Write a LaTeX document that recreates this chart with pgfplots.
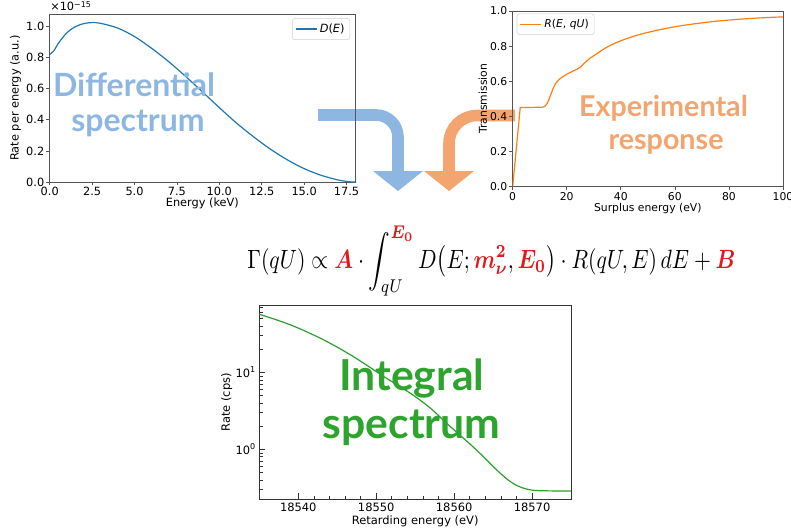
\documentclass[border=0pt]{standalone}
\usepackage[no-math]{fontspec}
\setmainfont{DejaVu Sans}
\newfontfamily\lato{Lato}
\usepackage{amsmath,bm}
\usepackage{graphicx}
\usepackage{pgfplots}
\pgfplotsset{compat=1.18}

\definecolor{mplblue}{HTML}{1F77B4}
\definecolor{mplorange}{HTML}{FF7F0E}
\definecolor{mplgreen}{HTML}{2CA02C}
\definecolor{lblue}{HTML}{8DB7E0}
\definecolor{lorange}{HTML}{F3A46F}
\definecolor{tgreen}{HTML}{2DA42D}
\definecolor{eqred}{HTML}{E31A1C}
\definecolor{framegray}{HTML}{555555}

\newcommand{\tfa}{\fontsize{8.5}{10}\selectfont}
\newcommand{\tfb}{\fontsize{8.1}{10}\selectfont}
\newcommand{\tfc}{\fontsize{8.6}{10}\selectfont}

\pgfplotsset{
  mpl/.style={
    scale only axis,
    axis line style={framegray, line width=0.6pt},
    tick style={framegray, line width=0.5pt},
    tick align=outside,
    major tick length=2.6pt,
    xtick pos=left, ytick pos=left,
    tick label style={inner sep=1.3pt},
    /pgf/number format/assume math mode=true,
    legend style={draw=gray!35, rounded corners=2pt, inner sep=2pt},
    legend cell align=left,
    legend image code/.code={\draw[##1] (0cm,0cm) -- (0.55cm,0cm);},
  },
  onedec/.style={/pgf/number format/fixed, /pgf/number format/fixed zerofill, /pgf/number format/precision=1},
}

\begin{document}
\begin{tikzpicture}
\useasboundingbox (0,0) rectangle (593.25pt,-398.25pt);

% ---------- arrows (behind the plots) ----------
\begin{scope}[x=0.75pt, y=-0.75pt]
  \draw[lblue, line width=8.7pt] (318,115) -- (376,115) arc[start angle=-90, end angle=0, radius=22] -- (398,172);
  \fill[lblue] (373,171) -- (423,171) -- (398,191) -- cycle;
  \draw[lorange, line width=8.7pt] (515,115.5) -- (477,115.5) arc[start angle=-90, end angle=-180, radius=28] -- (449,172);
  \fill[lorange] (424,171) -- (474,171) -- (449,191) -- cycle;
\end{scope}

% ---------- Differential spectrum ----------
\begin{axis}[mpl,
  at={(37.28pt,-136.5pt)}, anchor=south west,
  width=229pt, height=126pt,
  tick label style={font=\tfa}, label style={font=\tfa}, legend style={font=\tfa},
  xmin=0, xmax=18, ymin=0, ymax=1.08,
  xtick={0,2.5,5,7.5,10,12.5,15,17.5},
  ytick={0,0.2,0.4,0.6,0.8,1.0},
  xticklabel style={onedec},
  yticklabel style={onedec},
  xlabel={Energy (keV)}, ylabel={Rate per energy (a.u.)},
  xlabel style={at={(axis description cs:0.5,-0.125)}, anchor=center},
  ylabel style={at={(axis description cs:-0.112,0.5)}, anchor=center},
  legend style={at={(0.984,0.975)}, anchor=north east},
]
\addplot[mplblue, line width=0.9pt, smooth] table {
0 0.820
0.25 0.844
0.5 0.890
1 0.958
1.5 0.998
2 1.018
2.5 1.025
3 1.020
4 0.990
5 0.935
6 0.860
7 0.775
8 0.680
9 0.580
10 0.478
11 0.380
12 0.292
13 0.212
14 0.143
15 0.086
16 0.043
17 0.013
17.5 0.004
17.8 0.000
18 0.000
};
\addlegendentry{\textit{D}(\textit{E})}
\end{axis}

% ---------- Transmission ----------
\begin{axis}[mpl,
  at={(384.5pt,-140.0pt)}, anchor=south west,
  width=202.7pt, height=131.8pt,
  tick label style={font=\tfb}, label style={font=\tfb}, legend style={font=\tfb},
  xmin=0, xmax=100, ymin=0, ymax=1,
  xtick={0,20,40,60,80,100},
  ytick={0,0.2,0.4,0.6,0.8,1.0},
  yticklabel style={onedec},
  xlabel={Surplus energy (eV)}, ylabel={Transmission},
  xlabel style={at={(axis description cs:0.5,-0.123)}, anchor=center},
  ylabel style={at={(axis description cs:-0.110,0.5)}, anchor=center},
  legend style={at={(0.015,0.985)}, anchor=north west},
]
\addplot[mplorange, line width=0.9pt] table {
0 0
2.8 0.450
11 0.452
};
\addlegendentry{\textit{R}(\textit{E}, \textit{qU})}
\addplot[mplorange, line width=0.9pt, smooth, forget plot] table {
11 0.452
12 0.458
13 0.480
14 0.520
15 0.560
16 0.590
17 0.607
18 0.620
20 0.640
22 0.655
24 0.670
25 0.680
26 0.695
28 0.723
30 0.745
35 0.795
40 0.830
45 0.857
50 0.878
55 0.895
60 0.910
65 0.922
70 0.932
75 0.941
80 0.948
85 0.954
90 0.959
95 0.963
100 0.966
};
\end{axis}

% ---------- Integral spectrum ----------
\begin{axis}[mpl,
  at={(194.5pt,-374.6pt)}, anchor=south west,
  width=233.8pt, height=145.7pt,
  tick label style={font=\tfc, inner sep=2.4pt}, label style={font=\tfc},
  axis line style={black!80, line width=0.7pt},
  tick style={black!80, line width=0.5pt},
  tick align=inside,
  major tick length=4.5pt, minor tick length=2.6pt,
  xmin=18535, xmax=18575, ymode=log, ymin=0.223, ymax=74.8,
  xtick={18540,18550,18560,18570},
  minor x tick num=4,
  scaled x ticks=false,
  xticklabel style={/pgf/number format/1000 sep={}},
  ytick={1,10}, yticklabels={10\textsuperscript{0},10\textsuperscript{1}},
  minor ytick={0.3,0.4,0.5,0.6,0.7,0.8,0.9,2,3,4,5,6,7,8,9,20,30,40,50,60,70},
  xlabel={Retarding energy (eV)}, ylabel={Rate (cps)},
  xlabel style={at={(axis description cs:0.5,-0.114)}, anchor=center},
  ylabel style={at={(axis description cs:-0.105,0.5)}, anchor=center},
]
\addplot[mplgreen, line width=0.9pt, smooth] table {
18535 57
18537 49
18539 41.5
18541 34
18543 27.3
18545 21.3
18547 16.2
18549 12
18551 8.8
18553 6.6
18555 4.85
18557 3.4
18559 2.2
18561 1.45
18562 1.18
18563 0.95
18564 0.76
18565 0.60
18566 0.48
18567 0.395
18568 0.34
18569 0.31
18570 0.295
18571 0.290
18573 0.288
18575 0.288
};
\end{axis}

% ---------- overlays (pixel coordinates) ----------
\begin{scope}[x=0.75pt, y=-0.75pt]
  \node[anchor=base west, font=\tfa, inner sep=0pt] at (50,11) {×10\textsuperscript{−15}};

  % big labels
  \node[anchor=base, inner sep=0pt, text=lblue, font=\lato\bfseries\fontsize{24}{24}\selectfont] at (134,96.7) {Differential};
  \node[anchor=base, inner sep=0pt, text=lblue, font=\lato\bfseries\fontsize{24}{24}\selectfont] at (138,131.7) {spectrum};
  \node[anchor=base, inner sep=0pt, text=lorange, font=\lato\bfseries\fontsize{21.5}{21.5}\selectfont] at (663.5,116.7) {Experimental};
  \node[anchor=base, inner sep=0pt, text=lorange, font=\lato\bfseries\fontsize{21.5}{21.5}\selectfont] at (666,150) {response};
  \node[anchor=base, inner sep=0pt, text=tgreen, font=\lato\bfseries\fontsize{32}{32}\selectfont] at (411.7,390) {Integral};
  \node[anchor=base, inner sep=0pt, text=tgreen, font=\lato\bfseries\fontsize{32}{32}\selectfont] at (411.7,438.3) {spectrum};

  % formula
  \node[anchor=base, inner sep=0pt] at (491.5,268.3) {\scalebox{1}[1.22]{\resizebox{366pt}{!}{$\displaystyle \Gamma(qU)\propto \textcolor{eqred}{\bm{A}}\cdot\int_{qU}^{\textcolor{eqred}{\bm{E_0}}} D\bigl(E;\textcolor{eqred}{\bm{m_\nu^2}},\textcolor{eqred}{\bm{E_0}}\bigr)\cdot R(qU,E)\,dE+\textcolor{eqred}{\bm{B}}$}}};
\end{scope}
\end{tikzpicture}
\end{document}
